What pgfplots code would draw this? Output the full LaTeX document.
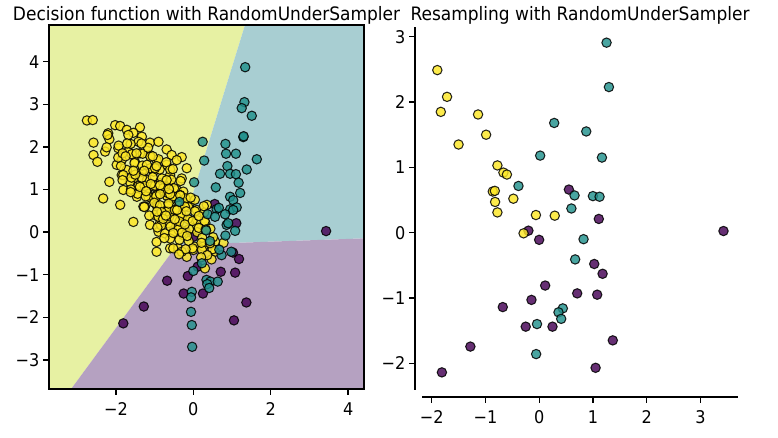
\documentclass[border=0pt]{standalone}
\usepackage{fontspec}
\setmainfont{DejaVu Sans}[FakeStretch=0.92]
\usepackage{pgfplots}
\pgfplotsset{compat=1.18}
\definecolor{vpur}{HTML}{440154}
\definecolor{vteal}{HTML}{21918C}
\definecolor{vyel}{HTML}{FDE725}
\definecolor{rpur}{RGB}{181,161,193}
\definecolor{rteal}{RGB}{168,206,210}
\definecolor{ryel}{RGB}{231,241,163}
\begin{document}
\begin{tikzpicture}
\useasboundingbox (0,0) rectangle (778pt,438pt);
\pgfplotsset{
  pts/.style={only marks, mark=*, mark size=4.7pt, mark options={draw=black, line width=1.05pt, fill=#1, fill opacity=0.82, draw opacity=0.85}},
  common/.style={scale only axis, tick align=outside, major tick length=6pt,
    every tick/.style={black, line width=1.3pt},
    ticklabel style={font=\fontsize{17.5}{19}\selectfont},
    xticklabel style={yshift=-4pt},
    /pgf/number format/assume math mode=true,
    title style={font=\fontsize{18.5}{20}\selectfont, at={(0.5,1)}, anchor=base},
    tick pos=left},
}
% ---------------- left panel ----------------
\begin{axis}[common, at={(49pt,49pt)}, anchor=south west, width=315pt, height=364pt,
  xmin=-3.73, xmax=4.41, ymin=-3.68, ymax=4.86,
  xtick={-2,0,2,4}, xticklabels={−2,0,2,4},
  ytick={-3,-2,-1,0,1,2,3,4}, yticklabels={−3,−2,−1,0,1,2,3,4},
  axis line style={line width=1.8pt}, axis on top,
  title={Decision function with RandomUnderSampler}, title style={yshift=-2pt}]
\addplot[draw=none, fill=ryel] coordinates {(-4.5,-4.2) (-3.58,-4.2) (-0.42,-0.30) (1.552,5.5) (-4.5,5.5)} -- cycle;
\addplot[draw=none, fill=rteal] coordinates {(1.552,5.5) (5,5.5) (5,-0.127) (-0.42,-0.30)} -- cycle;
\addplot[draw=none, fill=rpur] coordinates {(-3.58,-4.2) (5,-4.2) (5,-0.127) (-0.42,-0.30)} -- cycle;
% purple (class 0)
\addplot[pts=vpur] table {
0.553 0.66
1.11 0.21
-0.20 0.03
0.00 -0.11
1.025 -0.48
1.18 -0.63
0.112 -0.81
0.708 -0.93
1.08 -0.95
-0.143 -1.03
-0.677 -1.14
-0.25 -1.44
0.248 -1.44
1.37 -1.65
-1.28 -1.745
-1.81 -2.14
1.05 -2.07
3.43 0.025
};
% yellow (class 2)
\addplot[pts=vyel] table {
-2.75 2.62
-2.60 2.63
-2.02 2.51
-1.89 2.49
-1.38 2.46
-2.20 2.32
-1.72 2.40
-1.55 2.33
-2.17 2.18
-2.58 2.10
-1.33 2.24
-1.12 2.10
-0.90 2.12
-1.42 2.12
-1.94 1.97
-2.28 1.89
-2.58 1.81
-2.48 1.65
-0.69 1.94
-1.68 1.89
-1.38 1.85
-1.12 1.81
-0.30 1.76
-0.56 1.81
-1.85 1.69
-1.51 1.65
-0.95 1.69
-0.43 1.69
-1.98 1.58
-0.69 1.58
-0.17 1.50
-1.72 1.46
-1.33 1.42
-1.03 1.42
-0.60 1.34
-0.30 1.26
-1.85 1.34
-1.55 1.26
-1.20 1.22
-0.86 1.15
-2.17 1.18
-1.64 1.18
-1.42 1.08
-1.07 1.08
-0.60 1.11
-0.43 0.99
-1.81 0.99
-1.20 0.95
-0.90 0.91
-0.26 0.95
-2.33 0.79
-1.46 0.83
-1.07 0.79
-0.60 0.75
-1.89 0.64
-1.25 0.60
-0.95 0.64
-0.17 0.68
-1.55 0.24
-0.95 -0.46
-0.95 -0.23
-0.90 0.01
-0.99 0.40
-0.60 0.44
-0.34 0.40
-0.09 0.28
-0.65 0.21
-0.86 0.21
-0.39 0.13
-0.52 0.01
-0.73 -0.03
-0.26 -0.07
-0.60 -0.38
-0.39 -0.38
-0.17 -0.58
0.04 -0.34
0.26 -0.26
0.56 -0.46
0.78 -0.25
0.30 -0.85
0.30 0.13
0.09 0.13
-0.52 0.79
-0.34 0.87
-0.09 0.68
0.09 0.52
0.35 0.64
-1.29 0.60
-1.16 0.83
-0.95 0.87
-1.12 0.17
-2.22 2.28
0.47 -0.64
-0.52 -0.38
-0.30 -0.46
0.56 -0.22
0.26 -0.34
0.00 -0.42
-1.81 1.34
-1.52 1.62
-1.31 1.84
-1.17 1.98
-1.60 1.28
-1.32 1.56
-1.11 1.77
-1.61 1.00
-1.33 1.28
-1.11 1.50
-0.90 1.71
-1.26 1.08
-1.05 1.29
-0.87 1.47
-1.44 0.90
-1.23 0.84
-0.99 1.09
-0.81 1.26
-0.60 1.47
-0.96 0.84
-0.74 1.06
-0.57 1.23
-0.93 0.60
-0.68 0.85
-0.50 1.03
-1.14 0.39
-0.90 0.36
-0.65 0.61
-0.44 0.82
-0.62 0.37
-0.37 0.62
-0.20 0.79
-0.83 0.16
-0.59 0.13
-0.31 0.41
-0.13 0.59
0.04 0.76
-0.39 0.06
-0.14 0.31
0.04 0.49
-0.60 -0.15
-0.36 -0.18
-0.11 0.07
0.10 0.28
0.28 0.46
-0.12 -0.21
0.10 0.00
0.31 0.22
-0.02 -0.38
0.23 -0.13
0.44 0.08
0.22 -0.41
0.51 -0.12
0.50 -0.40
0.36 -0.54
-1.87 1.55
-1.59 1.83
-1.34 2.08
-1.94 1.75
-1.62 2.07
-1.93 2.03
-1.68 2.28
-2.24 1.99
-1.10 1.13
-0.69 1.22
-1.01 0.69
-0.53 0.84
-0.67 0.49
-0.22 0.60
-0.36 0.25
-0.02 0.26
-1.20 1.58
-1.38 1.06
-1.71 2.08
-1.83 1.85
-1.50 1.35
-0.99 1.50
-0.78 1.03
-0.665 0.92
-0.60 0.89
-0.86 0.63
-0.82 0.47
-0.48 0.52
-0.78 0.31
0.29 0.26
-0.29 -0.01
-1.55 1.44
-1.27 1.44
-0.95 1.55
-1.22 0.96
-0.86 1.10
-0.86 0.89
-0.63 1.01
-0.94 0.48
-0.64 0.67
-0.34 0.86
-0.71 0.39
-0.42 0.52
-0.48 0.30
-0.18 0.49
-0.52 -0.02
-0.22 0.18
0.14 0.38
-0.16 -0.09
0.14 0.10
-0.20 -0.40
0.32 0.06
0.21 -0.25
0.43 -0.26
0.20 -0.59
-0.37 -0.52
-0.75 -0.14
-0.93 0.11
-0.33 1.20
-0.53 1.48
-0.70 1.64
-1.62 0.94
-1.83 1.22
-1.47 1.85
-1.75 1.78
-1.05 1.78
-1.27 0.59
-0.07 0.81
0.27 0.61
};
% teal (class 1)
\addplot[pts=vteal] table {
1.34 3.87
1.32 3.05
1.25 2.91
1.51 2.73
1.29 2.23
1.30 2.25
0.24 2.12
0.83 2.07
0.845 1.84
1.10 1.84
1.64 1.71
0.28 1.68
0.88 1.55
1.38 1.47
0.69 1.37
0.95 1.37
1.10 1.36
1.17 1.16
0.02 1.17
0.58 1.05
1.21 0.92
0.95 0.83
1.03 0.75
-0.36 0.71
0.60 0.54
0.95 0.535
1.12 0.58
1.03 0.52
0.66 0.57
0.82 0.42
0.37 0.42
0.56 0.36
0.86 0.17
0.90 0.21
1.08 0.03
0.33 0.04
0.43 -0.21
0.83 -0.08
0.73 -0.54
0.98 -0.46
0.67 -0.41
0.22 -0.73
0.00 -0.91
0.34 -1.12
0.44 -1.16
0.36 -1.22
0.41 -1.31
0.63 -1.16
-0.04 -1.40
-0.06 -1.53
-0.06 -1.87
-0.04 -2.18
-0.03 -2.69
};
\end{axis}
% ---------------- right panel ----------------
\begin{axis}[common, at={(422pt,48pt)}, anchor=south west, width=316pt, height=363pt,
  xmin=-2.18, xmax=3.70, ymin=-2.41, ymax=3.15,
  axis x line*=bottom, axis y line*=left,
  axis x line shift=7pt, axis y line shift=7pt,
  axis line style={line width=1.8pt, -},
  xtick={-2,-1,0,1,2,3}, xticklabels={−2,−1,0,1,2,3},
  ytick={-2,-1,0,1,2,3}, yticklabels={−2,−1,0,1,2,3},
  title={Resampling with RandomUnderSampler}, title style={yshift=0pt}]
\addplot[pts=vpur] table {
0.553 0.66
1.11 0.21
-0.20 0.03
0.00 -0.11
1.025 -0.48
1.18 -0.63
0.112 -0.81
0.708 -0.93
1.08 -0.95
-0.143 -1.03
-0.677 -1.14
-0.25 -1.44
0.248 -1.44
1.37 -1.65
-1.28 -1.745
-1.81 -2.14
1.05 -2.07
3.43 0.025
};
\addplot[pts=vteal] table {
1.254 2.91
1.298 2.23
0.28 1.68
0.876 1.55
0.019 1.18
1.168 1.15
-0.385 0.715
0.658 0.57
1.0 0.56
1.124 0.55
0.60 0.37
0.826 -0.10
0.67 -0.41
0.44 -1.16
0.36 -1.22
0.41 -1.32
-0.04 -1.40
-0.056 -1.86
};
\addplot[pts=vyel] table {
-1.895 2.49
-1.714 2.08
-1.83 1.85
-1.137 1.81
-1.50 1.35
-0.987 1.50
-0.777 1.03
-0.665 0.92
-0.60 0.89
-0.863 0.63
-0.825 0.64
-0.82 0.47
-0.48 0.52
-0.777 0.31
-0.06 0.27
0.29 0.26
-0.29 -0.01
};
\end{axis}
\end{tikzpicture}
\end{document}
